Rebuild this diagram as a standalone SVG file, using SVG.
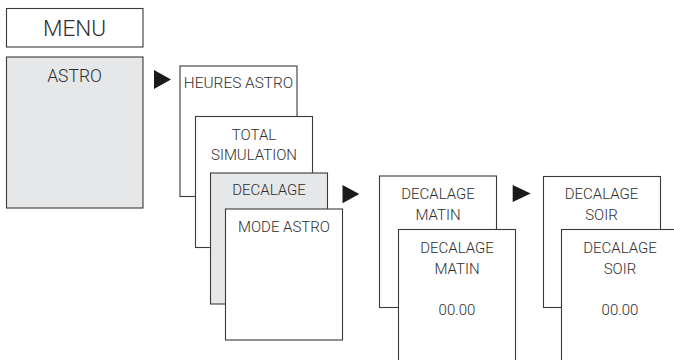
<svg xmlns="http://www.w3.org/2000/svg" width="674" height="360" viewBox="0 0 674 360">
<style>
.box{fill:#ffffff;stroke:#3a3a3a;stroke-width:1.1}
.gray{fill:#e6e7e8}
.t{font-family:Roboto,"Liberation Sans",sans-serif;font-size:15px;font-weight:300;fill:#2e2e2e;text-anchor:middle}
.arr{fill:#1a1a1a}
</style>
<rect width="674" height="360" fill="#ffffff"/>
<g id="menu">
<rect class="box" x="6.5" y="8.5" width="136.5" height="38.5"/>
<text class="t" x="74.5" y="36" style="font-size:22.5px">MENU</text>
</g>
<g id="astro">
<rect class="box gray" x="6.5" y="57" width="136.5" height="151"/>
<text class="t" x="74.5" y="82" style="font-size:17.5px">ASTRO</text>
</g>
<g id="heures-astro">
<rect class="box" x="180" y="66" width="117" height="130.5"/>
<text class="t" x="238.5" y="88" style="font-size:15.4px">HEURES ASTRO</text>
</g>
<g id="total-simulation">
<rect class="box" x="195.5" y="116.5" width="117" height="131"/>
<text class="t" x="254" y="139.5">TOTAL</text>
<text class="t" x="254" y="159.5">SIMULATION</text>
</g>
<g id="decalage">
<rect class="box gray" x="210.5" y="173" width="117" height="131"/>
<text class="t" x="269" y="195">DECALAGE</text>
</g>
<g id="mode-astro">
<rect class="box" x="225.5" y="209" width="117" height="131"/>
<text class="t" x="284" y="231.5">MODE ASTRO</text>
</g>
<g id="decalage-matin-1">
<rect class="box" x="379.5" y="176" width="117" height="131.5"/>
<text class="t" x="438" y="199">DECALAGE</text>
<text class="t" x="438" y="220">MATIN</text>
</g>
<g id="decalage-matin-2">
<rect class="box" x="398.5" y="229.5" width="117" height="140"/>
<text class="t" x="457" y="252.5">DECALAGE</text>
<text class="t" x="457" y="273.5">MATIN</text>
<text class="t" x="457" y="314.5">00.00</text>
</g>
<g id="decalage-soir-1">
<rect class="box" x="543.5" y="176.5" width="117" height="131"/>
<text class="t" x="601.5" y="199">DECALAGE</text>
<text class="t" x="601.5" y="220">SOIR</text>
</g>
<g id="decalage-soir-2">
<rect class="box" x="561.5" y="229.5" width="117" height="140"/>
<text class="t" x="620" y="252.5">DECALAGE</text>
<text class="t" x="620" y="273.5">SOIR</text>
<text class="t" x="620" y="314.5">00.00</text>
</g>
<g id="connectors">
<polygon class="arr" points="154,70 154,89 171,79.5"/>
<polygon class="arr" points="342.5,185 342.5,203.3 359.3,194"/>
<polygon class="arr" points="512.7,185 512.7,202 530.7,193.5"/>
</g>
</svg>
